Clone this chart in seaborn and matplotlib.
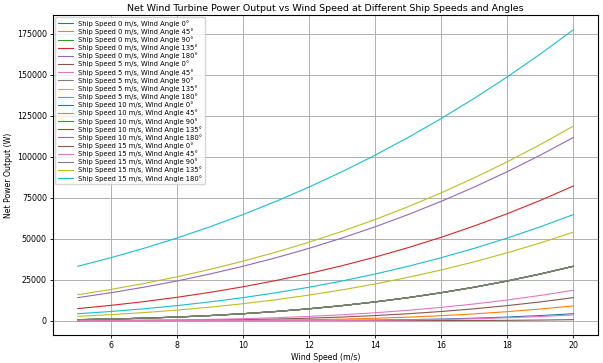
import seaborn as sns
import numpy as np
import pandas as pd
import matplotlib.pyplot as plt

wind_speed = [5, 6, 7, 8, 9, 10, 11, 12, 13, 14, 15, 16, 17, 18, 19, 20]
ship_speeds = [0, 5, 10, 15]
wind_angles = [0, 45, 90, 135, 180]

# net power (W), one row per wind angle (0, 45, 90, 135, 180)
calm = [518, 894, 1420, 2120, 3018, 4140, 5510, 7150, 9100, 11360, 13970, 16960, 20340, 24140, 28400, 33120]

power_ship0 = [calm, calm, calm, calm, calm]

power_ship5 = [
    [0, 4, 33, 112, 265, 518, 894, 1420, 2120, 3018, 4140, 5510, 7150, 9100, 11360, 13970],
    [13, 62, 172, 368, 675, 1118, 1721, 2510, 3509, 4744, 6237, 8016, 10100, 12530, 15310, 18480],
    calm,
    [2575, 3590, 4842, 6356, 8156, 10270, 12720, 15530, 18720, 22330, 26370, 30870, 35860, 41350, 47380, 53980],
    [4140, 5510, 7150, 9100, 11360, 13970, 16960, 20340, 24140, 28400, 33120, 38340, 44080, 50370, 57230, 64690],
]

power_ship10 = [
    [0, 0, 0, 0, 0, 0, 4, 33, 112, 265, 518, 894, 1420, 2120, 3018, 4140],
    [0, 0, 0, 3, 30, 104, 251, 496, 863, 1377, 2064, 2947, 4052, 5404, 7028, 8947],
    calm,
    [7282, 9245, 11530, 14170, 17180, 20600, 24430, 28720, 33470, 38730, 44510, 50840, 57740, 65240, 73360, 82130],
    [13970, 16960, 20340, 24140, 28400, 33120, 38340, 44080, 50370, 57230, 64690, 72770, 81490, 90880, 100970, 111780],
]

power_ship15 = [
    [0, 0, 0, 0, 0, 0, 0, 0, 0, 0, 0, 4, 33, 112, 265, 518],
    [0, 0, 0, 0, 0, 0, 0, 11, 57, 162, 351, 649, 1082, 1673, 2448, 3431],
    calm,
    [15740, 18960, 22600, 26670, 31210, 36230, 41760, 47830, 54470, 61680, 69510, 77980, 87110, 96920, 107450, 118700],
    [33120, 38340, 44080, 50370, 57230, 64690, 72770, 81490, 90880, 100970, 111780, 123340, 135660, 148780, 162720, 177500],
]

power_by_ship = {0: power_ship0, 5: power_ship5, 10: power_ship10, 15: power_ship15}

fig, ax = plt.subplots(figsize=(6.03, 3.63), dpi=100)

for s in ship_speeds:
    for i, a in enumerate(wind_angles):
        df = pd.DataFrame({"wind": wind_speed, "power": power_by_ship[s][i]})
        sns.lineplot(data=df, x="wind", y="power", ax=ax, linewidth=0.8,
                     label=f"Ship Speed {s} m/s, Wind Angle {a}°")

ax.set_title("Net Wind Turbine Power Output vs Wind Speed at Different Ship Speeds and Angles",
             fontsize=6.8, pad=3)
ax.set_xlabel("Wind Speed (m/s)", fontsize=5.6, labelpad=2)
ax.set_ylabel("Net Power Output (W)", fontsize=5.6, labelpad=3)
ax.tick_params(labelsize=5.7, length=2.5, width=0.6, pad=2)
ax.grid(True, color="#b0b0b0", linewidth=0.7)
ax.legend(loc="upper left", fontsize=4.9, handlelength=2.2, labelspacing=0.21,
          borderaxespad=0.3, framealpha=0.8)

fig.subplots_adjust(left=0.088, right=0.992, top=0.958, bottom=0.077)
fig.savefig("out.png", dpi=100)
